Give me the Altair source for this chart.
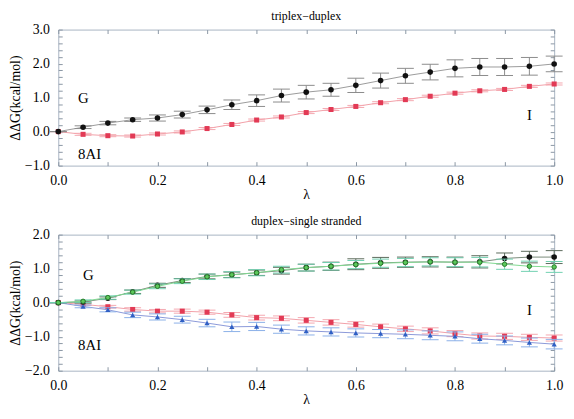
import altair as alt
import pandas as pd

lam = [round(i * 0.05, 2) for i in range(21)]

# triplex-duplex
top_G = [0.0, 0.13, 0.25, 0.35, 0.40, 0.50, 0.64, 0.79, 0.91, 1.06, 1.16, 1.23, 1.36, 1.50, 1.64, 1.75, 1.86, 1.90, 1.90, 1.92, 1.99]
top_G_err = [0.0, 0.04, 0.05, 0.05, 0.09, 0.10, 0.11, 0.14, 0.17, 0.19, 0.20, 0.19, 0.21, 0.22, 0.22, 0.23, 0.25, 0.25, 0.25, 0.26, 0.23]
top_A = [0.0, -0.08, -0.12, -0.13, -0.07, -0.01, 0.09, 0.21, 0.34, 0.43, 0.56, 0.65, 0.74, 0.85, 0.94, 1.04, 1.13, 1.20, 1.24, 1.33, 1.40]
top_A_err = [0.0, 0.03, 0.03, 0.03, 0.03, 0.03, 0.03, 0.03, 0.03, 0.03, 0.03, 0.03, 0.03, 0.03, 0.03, 0.03, 0.03, 0.03, 0.03, 0.03, 0.03]

# duplex-single stranded
bot_G = [0.0, 0.02, 0.13, 0.32, 0.51, 0.65, 0.77, 0.82, 0.88, 0.94, 1.03, 1.07, 1.13, 1.17, 1.19, 1.20, 1.19, 1.20, 1.30, 1.34, 1.34]
bot_G_err = [0.0, 0.03, 0.04, 0.05, 0.06, 0.06, 0.07, 0.08, 0.08, 0.10, 0.10, 0.12, 0.16, 0.16, 0.15, 0.15, 0.15, 0.18, 0.16, 0.17, 0.19]
bot_Gg = [0.0, 0.04, 0.15, 0.31, 0.48, 0.63, 0.76, 0.82, 0.88, 0.97, 1.03, 1.07, 1.12, 1.16, 1.18, 1.20, 1.19, 1.19, 1.13, 1.07, 1.05]
bot_Gg_err = [0.0, 0.04, 0.05, 0.06, 0.07, 0.07, 0.08, 0.09, 0.09, 0.10, 0.10, 0.11, 0.12, 0.12, 0.12, 0.12, 0.13, 0.14, 0.15, 0.15, 0.16]
bot_A = [0.0, -0.05, -0.12, -0.20, -0.25, -0.25, -0.28, -0.36, -0.44, -0.46, -0.52, -0.58, -0.64, -0.71, -0.77, -0.83, -0.91, -0.98, -0.99, -1.02, -1.04]
bot_A_err = [0.0, 0.03, 0.04, 0.05, 0.05, 0.06, 0.06, 0.07, 0.07, 0.07, 0.08, 0.08, 0.08, 0.08, 0.08, 0.09, 0.09, 0.09, 0.09, 0.09, 0.09]
bot_B = [0.0, -0.11, -0.21, -0.36, -0.42, -0.50, -0.60, -0.71, -0.70, -0.78, -0.83, -0.86, -0.89, -0.91, -0.93, -0.96, -0.99, -1.06, -1.11, -1.17, -1.22]
bot_B_err = [0.0, 0.04, 0.06, 0.08, 0.09, 0.10, 0.11, 0.14, 0.12, 0.12, 0.12, 0.12, 0.12, 0.12, 0.13, 0.13, 0.13, 0.13, 0.13, 0.13, 0.14]

x_ticks = [round(i * 0.1, 1) for i in range(11)]
top_y_ticks = [round(-1.0 + i * 0.2, 1) for i in range(21)]
bot_y_ticks = [round(-2.0 + i * 0.2, 1) for i in range(21)]

W, H = 503, 138
FONT = "Liberation Serif"
CAP = 0.017
TK = 4

x_scale = alt.Scale(domain=[0, 1], nice=False, zero=False)


def series(vals, errs, color, line_color, err_color, shape, size, ys, stroke=None):
    df = pd.DataFrame({"lam": lam, "v": vals, "e": errs})
    base = alt.Chart(df).transform_calculate(
        lo="datum.v - datum.e", hi="datum.v + datum.e",
        xl=f"datum.lam - {CAP}", xr=f"datum.lam + {CAP}")
    X = lambda f: alt.X(f, scale=x_scale, axis=None)
    Y = lambda f: alt.Y(f, scale=ys, axis=None)
    line = base.mark_line(color=line_color, strokeWidth=1).encode(x=X("lam:Q"), y=Y("v:Q"))
    bar = base.mark_rule(color=err_color, strokeWidth=1).encode(x=X("lam:Q"), y=Y("lo:Q"), y2="hi:Q")
    cap1 = base.mark_rule(color=err_color, strokeWidth=1).encode(x=X("xl:Q"), x2="xr:Q", y=Y("lo:Q"))
    cap2 = base.mark_rule(color=err_color, strokeWidth=1).encode(x=X("xl:Q"), x2="xr:Q", y=Y("hi:Q"))
    pt = base.mark_point(filled=True, shape=shape, size=size, color=color, opacity=1,
                         **({"stroke": stroke, "strokeWidth": 1} if stroke else {})).encode(
        x=X("lam:Q"), y=Y("v:Q"))
    return [line, bar, cap1, cap2, pt]


def labels(items, ys):
    df = pd.DataFrame(items, columns=["lam", "v", "txt"])
    return alt.Chart(df).mark_text(font=FONT, fontSize=15, color="black", align="left").encode(
        x=alt.X("lam:Q", scale=x_scale, axis=None), y=alt.Y("v:Q", scale=ys, axis=None), text="txt:N")


X_LAB = "round(datum.value * 10) % 2 == 0 ? format(datum.value, '.1f') : ''"
Y_LAB = "abs(datum.value - round(datum.value)) < 0.01 ? format(datum.value, '.1f') : ''"


def axes_layers(ys, ydom, yticks):
    df = pd.DataFrame({"lam": [0.0], "v": [ydom[0]]})
    main = alt.Chart(df).mark_point(opacity=0).encode(
        x=alt.X("lam:Q", scale=x_scale, title="λ",
                axis=alt.Axis(values=x_ticks, labelExpr=X_LAB, orient="bottom", offset=-TK,
                              ticks=True, tickSize=TK, labelPadding=4 + TK, titlePadding=0,
                              labelOverlap=False, labelFlush=False)),
        y=alt.Y("v:Q", scale=ys, title="ΔΔG(kcal/mol)",
                axis=alt.Axis(values=yticks, labelExpr=Y_LAB, orient="left", offset=-TK,
                              ticks=True, tickSize=TK, labelPadding=5 + TK, titlePadding=2,
                              labelOverlap=False, labelFlush=False)))
    opp = alt.Chart(df).mark_point(opacity=0).encode(
        x=alt.X("lam:Q", scale=x_scale, title=None,
                axis=alt.Axis(values=x_ticks, labels=False, orient="top", offset=-TK,
                              ticks=True, tickSize=TK)),
        y=alt.Y("v:Q", scale=ys, title=None,
                axis=alt.Axis(values=yticks, labels=False, orient="right", offset=-TK,
                              ticks=True, tickSize=TK)))
    return [main, opp]


top_ys = alt.Scale(domain=[-1, 3], nice=False, zero=False)
bot_ys = alt.Scale(domain=[-2, 2], nice=False, zero=False)

top_layers = (
    axes_layers(top_ys, [-1, 3], top_y_ticks)
    + series(top_A, top_A_err, "#e23a55", "#f2a0a8", "#f4a8b0", "square", 26, top_ys)
    + series(top_G, top_G_err, "#111111", "#9a9a9a", "#8a8a8a", "circle", 32, top_ys)
    + [labels([(0.04, 1.0, "G"), (0.04, -0.65, "8AI"), (0.945, 0.5, "I")], top_ys)]
)

bot_layers = (
    axes_layers(bot_ys, [-2, 2], bot_y_ticks)
    + series(bot_A, bot_A_err, "#e23a55", "#f2a0a8", "#f4a8b0", "square", 26, bot_ys)
    + series(bot_B, bot_B_err, "#2f5fc4", "#8a98d8", "#8ab0e8", "triangle-up", 28, bot_ys)
    + series(bot_G, bot_G_err, "#111111", "#7a8a7a", "#5a6a5a", "circle", 32, bot_ys)
    + series(bot_Gg, bot_Gg_err, "#5cc85c", "#80d890", "#70d0b0", "circle", 20, bot_ys, stroke="#2a7a2a")
    + [labels([(0.05, 0.8, "G"), (0.04, -1.25, "8AI"), (0.945, -0.21, "I")], bot_ys)]
)

top = alt.layer(*top_layers).resolve_axis(x="independent", y="independent").properties(
    width=W, height=H,
    title=alt.TitleParams("triplex−duplex", font=FONT, fontSize=12, fontWeight="normal", offset=0))
bot = alt.layer(*bot_layers).resolve_axis(x="independent", y="independent").properties(
    width=W, height=H,
    title=alt.TitleParams("duplex−single stranded", font=FONT, fontSize=12, fontWeight="normal", offset=0))

chart = alt.vconcat(top, bot, spacing=12).properties(
    padding={"left": 0, "top": -2, "right": 2, "bottom": 0}
).configure_view(
    stroke="#a8b4c2", strokeWidth=1
).configure_axis(
    grid=False, domain=False, tickColor="#8a96a4",
    labelFont=FONT, labelFontSize=14, labelColor="black",
    titleFont=FONT, titleFontSize=14, titleFontWeight="normal", titleColor="black",
)

chart.save("out.html", embed_options={"renderer": "svg", "actions": False})
